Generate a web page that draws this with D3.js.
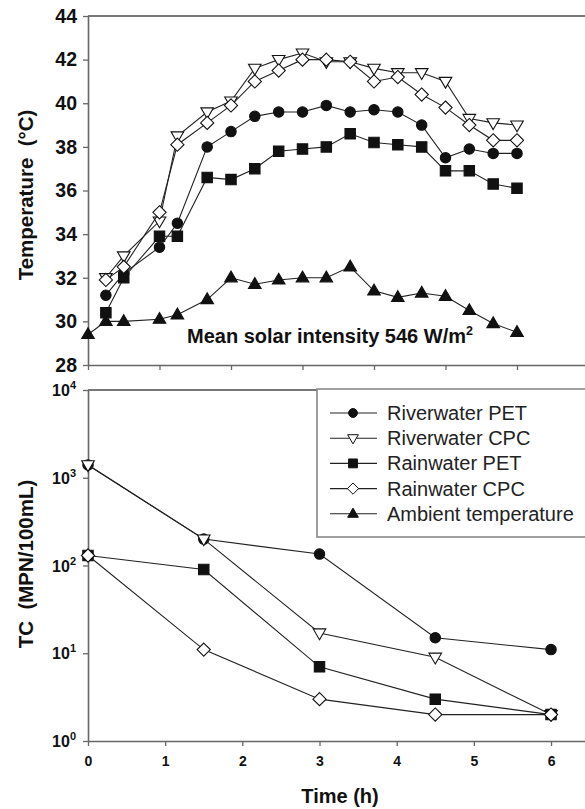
<!DOCTYPE html>
<html><head><meta charset="utf-8">
<script src="https://cdn.jsdelivr.net/npm/d3@7"></script>
<style>
body{margin:0;background:#fff}
svg{display:block}
text{font-family:Arial,"Liberation Sans",sans-serif}
</style>
</head><body><svg id="c" width="585" height="809"></svg>
<script>
// ---- Data: temperature panel (hours) ----
const tempTimes = [0, 0.25, 0.5, 1, 1.25, 1.667, 2, 2.333, 2.667, 3, 3.333, 3.667, 4, 4.333, 4.667, 5, 5.333, 5.667, 6];
const tRiverPET = [null, 31.2, 32.2, 33.4, 34.5, 38.0, 38.7, 39.4, 39.6, 39.6, 39.9, 39.6, 39.7, 39.6, 39.0, 37.5, 37.9, 37.7, 37.7];
const tRiverCPC = [null, 32.0, 33.0, 34.6, 38.5, 39.6, 40.1, 41.6, 42.0, 42.3, 41.9, 41.9, 41.6, 41.4, 41.4, 41.0, 39.3, 39.1, 39.0];
const tRainPET  = [null, 30.4, 32.0, 33.9, 33.9, 36.6, 36.5, 37.0, 37.8, 37.9, 38.0, 38.6, 38.2, 38.1, 38.0, 36.9, 36.9, 36.3, 36.1];
const tRainCPC  = [null, 31.9, 32.5, 35.0, 38.1, 39.1, 39.9, 41.0, 41.5, 42.0, 42.0, 41.9, 41.0, 41.2, 40.4, 39.8, 39.0, 38.3, 38.3];
const tAmbient  = [29.4, 30.0, 30.0, 30.1, 30.3, 31.0, 32.0, 31.7, 31.9, 32.0, 32.0, 32.5, 31.4, 31.1, 31.3, 31.15, 30.5, 29.9, 29.5];
const tempTicks = [28, 30, 32, 34, 36, 38, 40, 42, 44];
const timeTicks = [0, 1, 2, 3, 4, 5, 6];

// ---- Data: total coliforms panel ----
const tcTimes    = [0, 1.5, 3, 4.5, 6];
const tcRiverPET = [1400, 200, 135, 15, 11];
const tcRiverCPC = [1400, 200, 17, 9, 2];
const tcRainPET  = [130, 90, 7, 3, 2];
const tcRainCPC  = [130, 11, 3, 2, 2];
const tcTickExp  = [0, 1, 2, 3, 4];

const seriesNames = ["Riverwater PET", "Riverwater CPC", "Rainwater PET", "Rainwater CPC", "Ambient temperature"];
const seriesSymbols = ["circle", "tridown", "square", "diamond", "triup"];

const svg = d3.select('#c');
const LINE = '#222', AX = '#666';

// symbol paths
function sym(kind, s) {
  s = s || 1;
  if (kind === 'circle') { const r = 5.2 * s; return `M${r},0A${r},${r} 0 1,1 ${-r},0A${r},${r} 0 1,1 ${r},0Z`; }
  if (kind === 'square') { const h = 5.2 * s; return `M${-h},${-h}H${h}V${h}H${-h}Z`; }
  if (kind === 'diamond') { const r = 6.6 * s; return `M0,${-r}L${r},0L0,${r}L${-r},0Z`; }
  if (kind === 'triup') { const w = 6.3 * s, h = 10.8 * s; return `M0,${-h * 0.62}L${w},${h * 0.38}L${-w},${h * 0.38}Z`; }
  if (kind === 'tridown') { const w = 6.3 * s, h = 10.8 * s; return `M0,${h * 0.62}L${w},${-h * 0.38}L${-w},${-h * 0.38}Z`; }
}
const filled = {circle: true, square: true, triup: true, diamond: false, tridown: false};

function drawSeries(g, xs, ys, x, y, kind, s) {
  const pts = xs.map((t, i) => [t, ys[i]]).filter(p => p[1] != null);
  g.append('path').datum(pts)
    .attr('d', d3.line().x(p => x(p[0])).y(p => y(p[1])))
    .attr('fill', 'none').attr('stroke', LINE).attr('stroke-width', 1.1);
  g.selectAll(null).data(pts).enter().append('path')
    .attr('transform', p => `translate(${x(p[0])},${y(p[1])})`)
    .attr('d', sym(kind, s))
    .attr('fill', filled[kind] ? '#111' : '#fff')
    .attr('stroke', '#111').attr('stroke-width', 1.1);
}

// ================= TOP PANEL =================
const xT = d3.scaleLinear().domain([0, 7.3]).range([88, 88 + 7.3 * 71.5]);
const yT = d3.scaleLinear().domain([28, 44]).range([365, 16]);

// frame top line
svg.append('line').attr('x1', 88).attr('x2', 600).attr('y1', yT(44)).attr('y2', yT(44))
  .attr('stroke', '#777').attr('stroke-width', 2);

const gyT = svg.append('g').attr('transform', 'translate(88,0)')
  .call(d3.axisLeft(yT).tickValues(tempTicks).tickSize(5).tickSizeOuter(0).tickPadding(6).tickFormat(d3.format('d')));
const gxT = svg.append('g').attr('transform', `translate(0,${yT(28)})`)
  .call(d3.axisBottom(xT).tickValues(timeTicks).tickSize(5).tickSizeOuter(0).tickFormat(''));
[gyT, gxT].forEach(g => {
  g.select('.domain').attr('stroke', AX).attr('stroke-width', 1.6);
  g.selectAll('.tick line').attr('stroke', AX).attr('stroke-width', 1.3);
});
gyT.selectAll('.tick text').attr('font-size', 19.5).attr('font-weight', 'bold').attr('fill', '#111')
  .attr('font-family', 'Arial, "Liberation Sans", sans-serif');

svg.append('text').attr('transform', 'translate(33,195) rotate(-90)')
  .attr('text-anchor', 'middle').attr('font-size', 20.5).attr('font-weight', 'bold').attr('fill', '#111')
  .style('white-space', 'pre').text('Temperature  (\u00B0C)');

const gT = svg.append('g');
drawSeries(gT, tempTimes, tRiverPET, xT, yT, 'circle');
drawSeries(gT, tempTimes, tRiverCPC, xT, yT, 'tridown');
drawSeries(gT, tempTimes, tRainPET, xT, yT, 'square');
drawSeries(gT, tempTimes, tRainCPC, xT, yT, 'diamond');
drawSeries(gT, tempTimes, tAmbient, xT, yT, 'triup');

const note = svg.append('text').attr('x', 187).attr('y', 343)
  .attr('font-size', 20).attr('font-weight', 'bold').attr('fill', '#111');
note.append('tspan').text('Mean solar intensity 546 W/m');
note.append('tspan').attr('font-size', 12.5).attr('dy', -8).text('2');

// ================= BOTTOM PANEL =================
const xB = d3.scaleLinear().domain([0, 6.9]).range([88, 88 + 6.9 * 77.17]);
const yB = d3.scaleLog().domain([1, 1e4]).range([741, 390]);

svg.append('line').attr('x1', 88).attr('x2', 600).attr('y1', yB(1e4)).attr('y2', yB(1e4))
  .attr('stroke', '#777').attr('stroke-width', 1.8);

const gyB = svg.append('g').attr('transform', 'translate(88,0)')
  .call(d3.axisLeft(yB).tickValues(tcTickExp.map(e => Math.pow(10, e))).tickSize(5).tickSizeOuter(0).tickFormat(''));
const gxB = svg.append('g').attr('transform', `translate(0,${yB(1)})`)
  .call(d3.axisBottom(xB).tickValues(timeTicks).tickSize(5).tickSizeOuter(0).tickPadding(10).tickFormat(d3.format('d')));
[gyB, gxB].forEach(g => {
  g.select('.domain').attr('stroke', AX).attr('stroke-width', 1.6);
  g.selectAll('.tick line').attr('stroke', AX).attr('stroke-width', 1.3);
});
gxB.selectAll('.tick text').attr('font-size', 14).attr('font-weight', 'bold').attr('fill', '#111')
  .attr('font-family', 'Arial, "Liberation Sans", sans-serif');

// log tick labels 10^n
const lab = svg.append('g');
tcTickExp.forEach(e => {
  const t = lab.append('text').attr('x', 76).attr('y', yB(Math.pow(10, e)) + 6)
    .attr('text-anchor', 'end').attr('font-size', 16).attr('font-weight', 'bold').attr('fill', '#111');
  t.append('tspan').text('10');
  t.append('tspan').attr('font-size', 11).attr('dy', -7).text(String(e));
});

svg.append('text').attr('transform', 'translate(33,564) rotate(-90)')
  .attr('text-anchor', 'middle').attr('font-size', 20.5).attr('font-weight', 'bold').attr('fill', '#111')
  .style('white-space', 'pre').text('TC  (MPN/100mL)');

svg.append('text').attr('x', 340).attr('y', 803).attr('text-anchor', 'middle')
  .attr('font-size', 20).attr('font-weight', 'bold').attr('fill', '#111').text('Time (h)');

const gB = svg.append('g');
drawSeries(gB, tcTimes, tcRiverPET, xB, yB, 'circle');
drawSeries(gB, tcTimes, tcRiverCPC, xB, yB, 'tridown');
drawSeries(gB, tcTimes, tcRainPET, xB, yB, 'square');
drawSeries(gB, tcTimes, tcRainCPC, xB, yB, 'diamond');

// legend
const lg = svg.append('g');
lg.append('rect').attr('x', 317).attr('y', 389).attr('width', 290).attr('height', 148)
  .attr('fill', '#fff').attr('stroke', '#888').attr('stroke-width', 1.6);
seriesNames.forEach((n, i) => {
  const yy = 413 + i * 25.2;
  lg.append('line').attr('x1', 330).attr('x2', 377).attr('y1', yy).attr('y2', yy)
    .attr('stroke', LINE).attr('stroke-width', 1.1);
  lg.append('path').attr('transform', `translate(353,${yy})`).attr('d', sym(seriesSymbols[i], 0.85))
    .attr('fill', filled[seriesSymbols[i]] ? '#111' : '#fff').attr('stroke', '#111').attr('stroke-width', 1);
  lg.append('text').attr('x', 387).attr('y', yy + 7).attr('font-size', 20).attr('fill', '#222').text(n);
});
</script>
</body></html>
